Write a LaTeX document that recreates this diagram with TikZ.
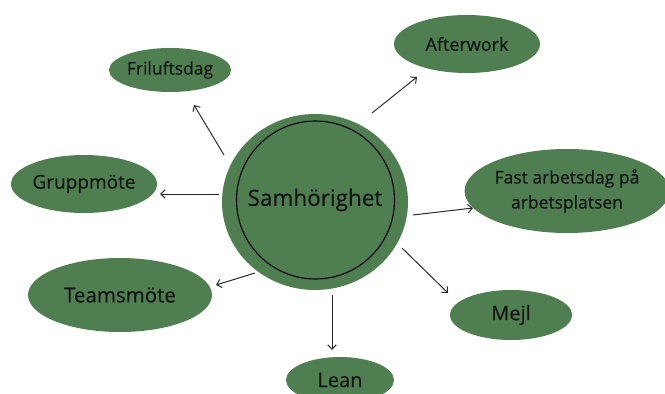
\documentclass[tikz,border=0pt]{standalone}
\usepackage{fontspec}
\setmainfont{Open Sans}[FakeBold=0.4]
\usetikzlibrary{shapes.geometric,arrows.meta}
\definecolor{leaf}{HTML}{4F7F51}
\definecolor{ink}{HTML}{141414}
\definecolor{arr}{HTML}{2A2A2A}
\tikzset{
  bubble/.style={ellipse, fill=leaf, inner sep=0pt, text=ink, align=center},
  link/.style={draw=arr, line width=1pt, -{Straight Barb[length=4.5pt,width=8.5pt]}}
}
\begin{document}
\begin{tikzpicture}[x=1pt,y=-1pt]
\useasboundingbox (0,0) rectangle (665,394);
% centre
\node[ellipse, fill=leaf, minimum width=186pt, minimum height=176pt, inner sep=0pt] (hub) at (315,202) {};
\node[circle, draw=black, line width=1.1pt, minimum size=158pt, inner sep=0pt] (ring) at (315.5,200) {};
\node[text=ink, font=\fontsize{22.5}{26}\selectfont] (lab) at (315,200) {Samhörighet};
% satellites
\node[bubble, minimum width=106pt, minimum height=44pt, font=\fontsize{17.5}{20}\selectfont] (fri) at (170,70) {Friluftsdag};
\node[bubble, minimum width=146pt, minimum height=58pt, font=\fontsize{19}{22}\selectfont] (grp) at (84,184) {Gruppmöte};
\node[bubble, minimum width=184pt, minimum height=74pt, font=\fontsize{20.5}{24}\selectfont] (team) at (120,295) {Teamsmöte};
\node[bubble, minimum width=146pt, minimum height=58pt, font=\fontsize{18}{21}\selectfont] (aw) at (467,44) {Afterwork};
\node[bubble, minimum width=198pt, minimum height=84pt, font=\fontsize{17.5}{25}\selectfont] (fast) at (567,191) {Fast arbetsdag på\\arbetsplatsen};
\node[bubble, minimum width=122pt, minimum height=50pt, font=\fontsize{20}{23}\selectfont] (mejl) at (511,315) {Mejl};
\node[bubble, minimum width=108pt, minimum height=46pt, font=\fontsize{20}{23}\selectfont] (lean) at (340,380) {Lean};
% connector ends
\coordinate (s1) at (224,155); \coordinate (t1) at (194,105);
\coordinate (s2) at (219,194); \coordinate (t2) at (160,194);
\coordinate (s3) at (255,273); \coordinate (t3) at (216,285);
\coordinate (s4) at (372,113); \coordinate (t4) at (417,77);
\coordinate (s5) at (413,215); \coordinate (t5) at (473,208);
\coordinate (s6) at (402,248); \coordinate (t6) at (448,293);
\coordinate (s7) at (332,295); \coordinate (t7) at (332,350);
\draw[link] (s1) -- (t1);
\draw[link] (s2) -- (t2);
\draw[link] (s3) -- (t3);
\draw[link] (s4) -- (t4);
\draw[link] (s5) -- (t5);
\draw[link] (s6) -- (t6);
\draw[link] (s7) -- (t7);
\end{tikzpicture}
\end{document}
